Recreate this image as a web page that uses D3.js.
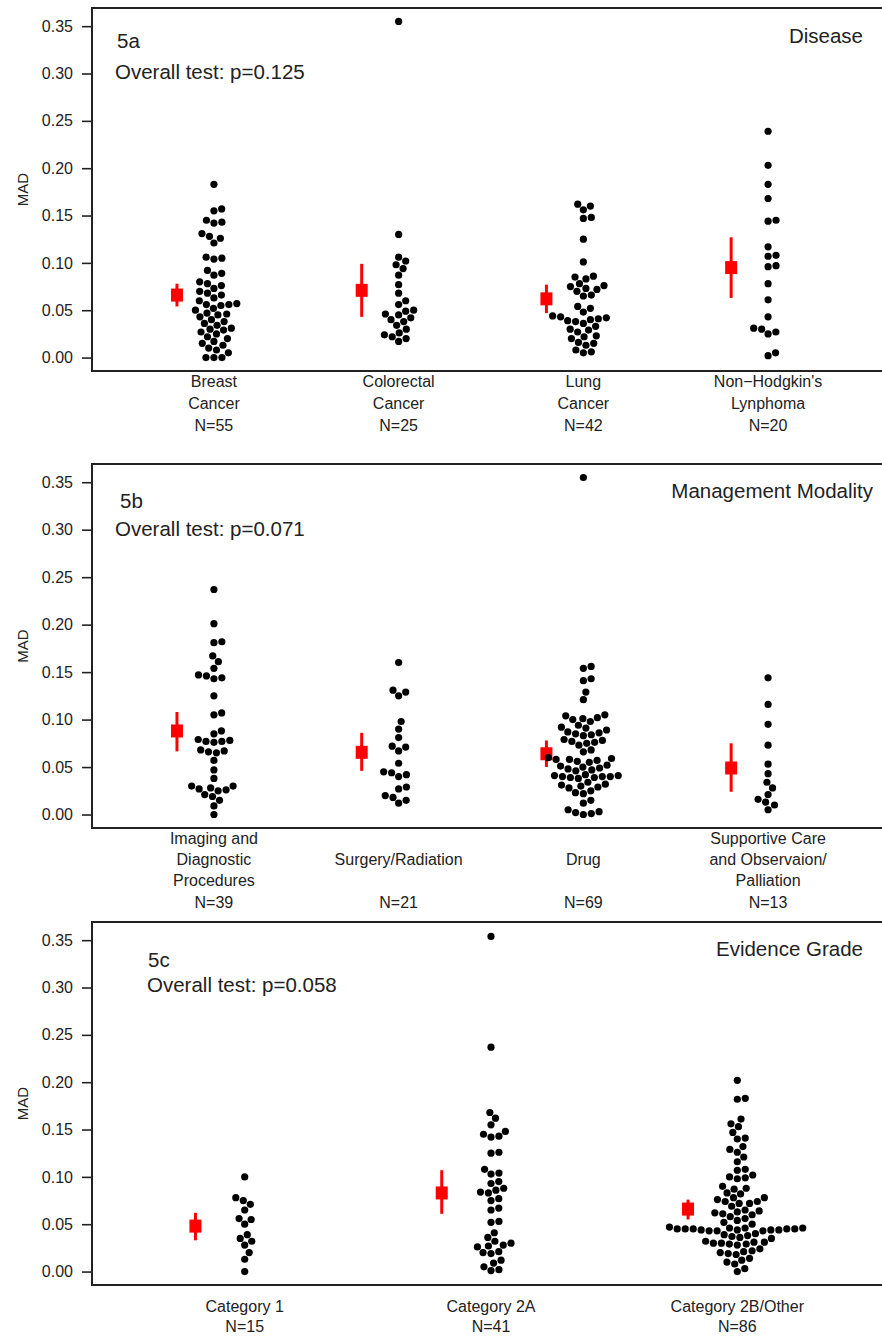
<!DOCTYPE html>
<html>
<head>
<meta charset="utf-8">
<script src="https://cdn.jsdelivr.net/npm/d3@7"></script>
<style>
body { margin: 0; background: #fff; }
svg { display: block; font-family: "Liberation Sans", Arial, sans-serif; }
</style>
</head>
<body>
<svg id="chart" width="882" height="1337"></svg>
<script>
// ---- data ----
const yTicks = [0, 0.05, 0.10, 0.15, 0.20, 0.25, 0.30, 0.35];

// 5a: disease
const diseaseLabels = [
  ["Breast", "Cancer", "N=55"],
  ["Colorectal", "Cancer", "N=25"],
  ["Lung", "Cancer", "N=42"],
  ["Non\u2212Hodgkin's", "Lynphoma", "N=20"]
];
const breast = [0.183, 0.157, 0.155, 0.145, 0.143, 0.142, 0.131, 0.128, 0.126, 0.121,
  0.106, 0.105, 0.104, 0.092, 0.089, 0.087, 0.080, 0.078, 0.076, 0.073, 0.070, 0.068,
  0.066, 0.063, 0.060, 0.057, 0.056, 0.056, 0.055, 0.052, 0.050, 0.047, 0.046, 0.045,
  0.043, 0.040, 0.038, 0.036, 0.034, 0.031, 0.030, 0.029, 0.027, 0.025, 0.022, 0.020,
  0.017, 0.015, 0.013, 0.010, 0.008, 0.005, 0.000, 0.000, 0.000];
const colorectal = [0.355, 0.130, 0.106, 0.102, 0.098, 0.094, 0.087, 0.077, 0.068, 0.060,
  0.056, 0.050, 0.049, 0.046, 0.045, 0.042, 0.040, 0.038, 0.034, 0.030, 0.026, 0.024,
  0.022, 0.020, 0.017];
const lung = [0.162, 0.160, 0.156, 0.148, 0.147, 0.125, 0.101, 0.086, 0.085, 0.083,
  0.078, 0.076, 0.075, 0.073, 0.072, 0.070, 0.066, 0.065, 0.054, 0.052, 0.048, 0.044,
  0.043, 0.042, 0.041, 0.040, 0.039, 0.038, 0.036, 0.033, 0.030, 0.029, 0.027, 0.023,
  0.022, 0.020, 0.016, 0.015, 0.013, 0.008, 0.006, 0.005];
const lymphoma = [0.239, 0.203, 0.183, 0.168, 0.145, 0.144, 0.117, 0.108, 0.107, 0.097,
  0.096, 0.078, 0.061, 0.043, 0.031, 0.030, 0.027, 0.025, 0.005, 0.002];
const diseaseMean = [0.066, 0.071, 0.062, 0.095];
const diseaseLo = [0.054, 0.043, 0.047, 0.063];
const diseaseHi = [0.078, 0.099, 0.077, 0.127];

// 5b: management modality
const modalityLabels = [
  ["Imaging and", "Diagnostic", "Procedures", "N=39"],
  ["", "Surgery/Radiation", "", "N=21"],
  ["", "Drug", "", "N=69"],
  ["Supportive Care", "and Observaion/", "Palliation", "N=13"]
];
const imaging = [0.237, 0.201, 0.182, 0.181, 0.167, 0.161, 0.154, 0.147, 0.146, 0.144,
  0.143, 0.125, 0.107, 0.105, 0.088, 0.085, 0.079, 0.078, 0.077, 0.077, 0.076, 0.068,
  0.067, 0.066, 0.065, 0.057, 0.047, 0.038, 0.030, 0.030, 0.028, 0.027, 0.026, 0.025,
  0.021, 0.019, 0.015, 0.009, 0.000];
const surgery = [0.160, 0.131, 0.129, 0.125, 0.098, 0.090, 0.081, 0.072, 0.071, 0.067,
  0.054, 0.045, 0.044, 0.042, 0.040, 0.029, 0.027, 0.020, 0.018, 0.015, 0.012];
const drug = [0.355, 0.156, 0.154, 0.143, 0.141, 0.129, 0.121, 0.105, 0.104, 0.102,
  0.101, 0.100, 0.098, 0.094, 0.092, 0.091, 0.089, 0.087, 0.086, 0.085, 0.084, 0.083,
  0.079, 0.078, 0.077, 0.076, 0.075, 0.073, 0.068, 0.066, 0.060, 0.059, 0.058, 0.058,
  0.057, 0.056, 0.055, 0.052, 0.051, 0.050, 0.049, 0.048, 0.047, 0.046, 0.042, 0.041,
  0.041, 0.040, 0.040, 0.040, 0.039, 0.039, 0.038, 0.034, 0.032, 0.031, 0.030, 0.029,
  0.028, 0.025, 0.023, 0.022, 0.015, 0.012, 0.005, 0.003, 0.002, 0.001, 0.000];
const supportive = [0.144, 0.116, 0.095, 0.073, 0.053, 0.043, 0.034, 0.028, 0.021,
  0.016, 0.013, 0.010, 0.005];
const modalityMean = [0.088, 0.0655, 0.064, 0.049];
const modalityLo = [0.0665, 0.046, 0.050, 0.024];
const modalityHi = [0.108, 0.086, 0.078, 0.075];

// 5c: evidence grade
const gradeLabels = [
  ["Category 1", "N=15"],
  ["Category 2A", "N=41"],
  ["Category 2B/Other", "N=86"]
];
const cat1 = [0.100, 0.078, 0.075, 0.071, 0.065, 0.056, 0.055, 0.050, 0.039, 0.035,
  0.032, 0.028, 0.020, 0.013, 0.000];
const cat2a = [0.354, 0.237, 0.168, 0.162, 0.155, 0.148, 0.145, 0.143, 0.142, 0.126,
  0.125, 0.108, 0.104, 0.103, 0.095, 0.093, 0.088, 0.086, 0.084, 0.083, 0.077, 0.075,
  0.067, 0.065, 0.053, 0.052, 0.041, 0.036, 0.032, 0.030, 0.028, 0.027, 0.026, 0.021,
  0.020, 0.019, 0.012, 0.009, 0.005, 0.002, 0.001];
const cat2b = [0.202, 0.183, 0.182, 0.161, 0.156, 0.153, 0.147, 0.141, 0.140, 0.132,
  0.129, 0.126, 0.121, 0.116, 0.108, 0.107, 0.102, 0.100, 0.099, 0.098, 0.090, 0.088,
  0.087, 0.083, 0.082, 0.078, 0.078, 0.076, 0.074, 0.074, 0.072, 0.072, 0.069,
  0.065, 0.064, 0.063, 0.062, 0.061, 0.060,
  0.058, 0.056, 0.054, 0.052, 0.050,
  0.047, 0.046, 0.046, 0.046, 0.045, 0.045, 0.045, 0.045, 0.045, 0.044, 0.044, 0.044,
  0.044, 0.043, 0.043, 0.043,
  0.040, 0.039, 0.038, 0.037, 0.036, 0.035,
  0.032, 0.031, 0.031, 0.030, 0.030, 0.029, 0.029, 0.028,
  0.024, 0.022, 0.021, 0.020, 0.019, 0.018,
  0.014, 0.012, 0.010, 0.008, 0.003, 0.000];
const gradeMean = [0.048, 0.083, 0.066];
const gradeLo = [0.033, 0.061, 0.055];
const gradeHi = [0.062, 0.107, 0.076];

// ---- layout ----
const panels = [
  {tag: "5a", test: "Overall test: p=0.125", title: "Disease",
   labels: diseaseLabels, groups: [breast, colorectal, lung, lymphoma],
   mean: diseaseMean, lo: diseaseLo, hi: diseaseHi,
   top: 8, bottom: 371, tagPos: [117, 48], testPos: [115, 79], titlePos: [863, 43],
   labStart: 10, labGap: 22},
  {tag: "5b", test: "Overall test: p=0.071", title: "Management Modality",
   labels: modalityLabels, groups: [imaging, surgery, drug, supportive],
   mean: modalityMean, lo: modalityLo, hi: modalityHi,
   top: 464, bottom: 828, tagPos: [120, 508], testPos: [115, 536], titlePos: [873, 498],
   labStart: 10, labGap: 21.3},
  {tag: "5c", test: "Overall test: p=0.058", title: "Evidence Grade",
   labels: gradeLabels, groups: [cat1, cat2a, cat2b],
   mean: gradeMean, lo: gradeLo, hi: gradeHi,
   top: 922, bottom: 1285, tagPos: [148, 967], testPos: [147, 992], titlePos: [863, 956],
   labStart: 21.7, labGap: 20}
];

const left = 92, right = 890;
const ink = "#222";
const dotGap = 8;   // centre distance of swarm points

const svg = d3.select("#chart");

// beeswarm (same idea as R beeswarm "swarm", ascending priority)
function swarm(vals, y) {
  const pts = vals.map(v => ({v: v, py: y(v)})).sort((a, b) => a.v - b.v);
  const placed = [];
  pts.forEach(p => {
    const near = placed.filter(q => Math.abs(q.py - p.py) < dotGap);
    let cands = [0];
    near.forEach(q => cands.push(q.dx + Math.sqrt(dotGap * dotGap - (q.py - p.py) ** 2)));
    near.forEach(q => cands.push(q.dx - Math.sqrt(dotGap * dotGap - (q.py - p.py) ** 2)));
    let best = Infinity;
    cands.forEach(c => {
      const ok = near.every(q => (c - q.dx) ** 2 + (p.py - q.py) ** 2 >= dotGap * dotGap * 0.999);
      if (ok && Math.abs(c) < Math.abs(best)) best = c;
    });
    p.dx = best;
    placed.push(p);
  });
  return pts;
}

panels.forEach(P => {
  const n = P.groups.length;
  const x = d3.scaleLinear()
    .domain([0.5 - 0.04 * n, n + 0.5 + 0.04 * n])
    .range([left, right]);
  const y = d3.scaleLinear()
    .domain([-0.0142, 0.3692])
    .range([P.bottom, P.top]);

  const g = svg.append("g");

  // y axis (ticks only, box gives the line)
  const ax = g.append("g")
    .attr("transform", `translate(${left},0)`)
    .call(d3.axisLeft(y).tickValues(yTicks).tickFormat(d3.format(".2f")).tickSize(10).tickPadding(9));
  ax.select(".domain").remove();
  ax.selectAll("line").attr("stroke", ink).attr("stroke-width", 1.6);
  ax.selectAll("text").attr("fill", ink).attr("font-size", 16)
    .attr("font-family", "Liberation Sans, Arial, sans-serif");

  g.append("text")
    .attr("transform", `translate(23,${(P.top + P.bottom) / 2}) rotate(-90)`)
    .attr("text-anchor", "middle").attr("dy", "0.35em")
    .attr("font-size", 15).attr("fill", ink)
    .text("MAD");

  // category labels
  P.labels.forEach((lines, i) => {
    lines.forEach((s, k) => {
      g.append("text")
        .attr("x", x(i + 1))
        .attr("y", P.bottom + P.labStart + k * P.labGap)
        .attr("dy", "0.35em")
        .attr("text-anchor", "middle")
        .attr("font-size", 16).attr("fill", ink)
        .text(s);
    });
  });

  // mean + interval in red, left of each swarm
  const red = g.append("g").attr("fill", "#f00");
  red.selectAll("rect.ci")
    .data(P.mean)
    .join("rect")
    .attr("x", (d, i) => x(i + 1 - 0.2) - 1.5)
    .attr("y", (d, i) => y(P.hi[i]))
    .attr("width", 3)
    .attr("height", (d, i) => y(P.lo[i]) - y(P.hi[i]));
  red.selectAll("rect.m")
    .data(P.mean)
    .join("rect")
    .attr("x", (d, i) => x(i + 1 - 0.2) - 6)
    .attr("y", d => y(d) - 6.5)
    .attr("width", 12)
    .attr("height", 13);

  // swarms
  P.groups.forEach((vals, i) => {
    g.append("g")
      .selectAll("circle")
      .data(swarm(vals, y))
      .join("circle")
      .attr("cx", d => x(i + 1) + d.dx)
      .attr("cy", d => d.py)
      .attr("r", 3.6)
      .attr("fill", "#000");
  });

  // box
  g.append("rect")
    .attr("x", left).attr("y", P.top)
    .attr("width", right - left).attr("height", P.bottom - P.top)
    .attr("fill", "none").attr("stroke", ink).attr("stroke-width", 2);

  // texts inside
  g.append("text").attr("x", P.tagPos[0]).attr("y", P.tagPos[1])
    .attr("font-size", 20.5).attr("fill", ink).text(P.tag);
  g.append("text").attr("x", P.testPos[0]).attr("y", P.testPos[1])
    .attr("font-size", 20.5).attr("fill", ink).text(P.test);
  g.append("text").attr("x", P.titlePos[0]).attr("y", P.titlePos[1])
    .attr("text-anchor", "end")
    .attr("font-size", 20.5).attr("fill", ink).text(P.title);
});
</script>
</body>
</html>
